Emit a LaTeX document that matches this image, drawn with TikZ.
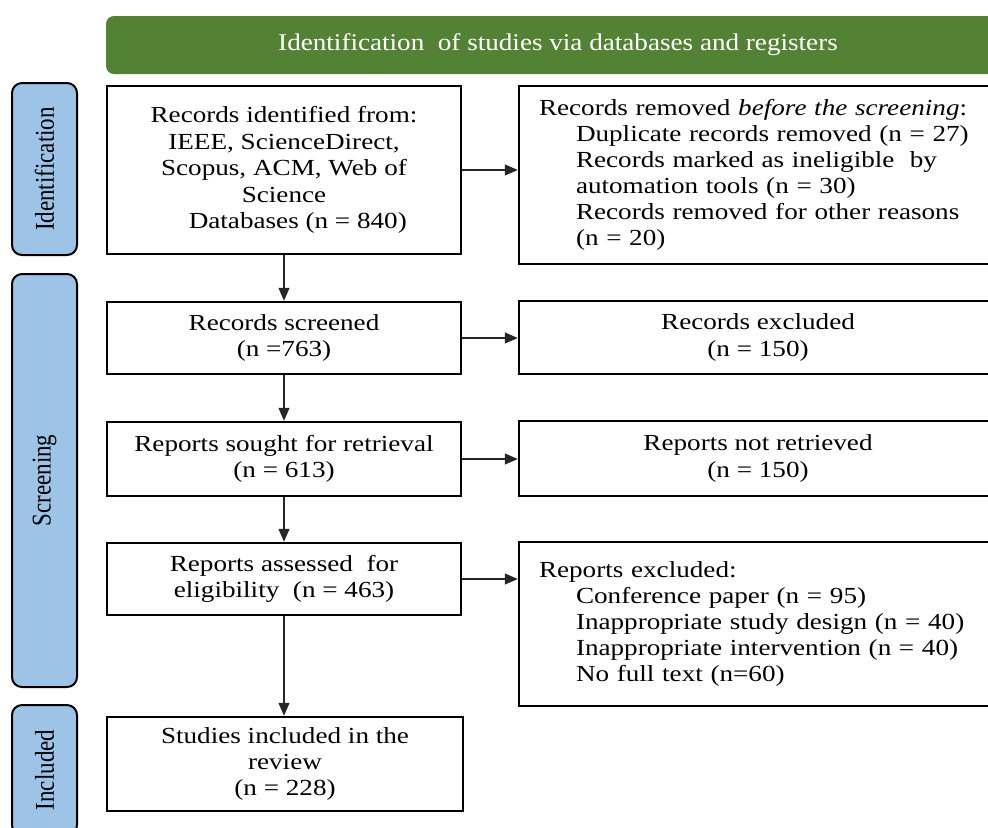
\documentclass[tikz,border=0pt]{standalone}
\usepackage{fontspec}
\usepackage{graphicx}
\setmainfont[FakeStretch=1.18]{Liberation Serif}
\newfontfamily\sidefont{Liberation Serif}
\newfontfamily\bannerfont[FakeStretch=1.13]{Liberation Serif}
\usetikzlibrary{arrows.meta}
\definecolor{bannergreen}{HTML}{548235}
\definecolor{phaseblue}{HTML}{9DC3E6}
\def\subline{\hspace*{18.5pt}}
\def\phaselabel#1{\scalebox{1}[1.18]{\fontsize{11.5}{13}\sidefont #1}}

\begin{document}
\begin{tikzpicture}[x=0.5pt, y=-0.5pt,
		box/.style={draw=black, line width=1.25pt, fill=white, inner sep=0pt, align=center, font=\fontsize{11.5}{13.2}\selectfont},
		listbox/.style={box, align=left, text width=219pt, inner xsep=10pt, font=\fontsize{11.5}{13}\selectfont},
		phase/.style={draw=black, line width=1pt, fill=phaseblue, rounded corners=5pt, inner sep=0pt, rotate=90},
		flow/.style={-{Triangle[length=6.5pt,width=5.5pt]}, line width=0.6pt, black!85}]
			%%%%% START %%%%%
			\useasboundingbox (0, 0) rectangle (988, 827);
			\clip (0, 0) rectangle (988, 827);
			
			\node[fill=bannergreen, rounded corners=4pt, minimum width=452pt, minimum height=29pt, text=white,
				font=\fontsize{12}{14}\bannerfont] (banner) at (558, 45) {Identification\ \ of studies via databases and registers};
			
			% phase bars
			\node[phase, minimum width=86pt, minimum height=32.5pt] (phaseid) at (44.5, 169) {\phaselabel{Identification}};
			\node[phase, minimum width=206.5pt, minimum height=32.5pt] (phasescr) at (44.5, 480.5) {\phaselabel{Screening}};
			\node[phase, minimum width=65pt, minimum height=32.5pt] (phaseinc) at (44.5, 770) {\phaselabel{Included}};
			
			% main column
			\node[box, minimum width=177pt, minimum height=84pt] (ident) at (284, 170)
				{Records identified from:\\IEEE, ScienceDirect,\\Scopus, ACM, Web of\\Science\\\hspace*{1.2em}Databases (n = 840)};
			\node[box, minimum width=177pt, minimum height=36pt] (screened) at (284, 338) {Records screened\\(n =763)};
			\node[box, minimum width=177pt, minimum height=37pt] (sought) at (284, 459) {Reports sought for retrieval\\(n = 613)};
			\node[box, minimum width=177pt, minimum height=36pt] (assessed) at (284, 579) {Reports assessed\ \ for\\eligibility\ \ (n = 463)};
			\node[box, minimum width=178pt, minimum height=47pt] (included) at (285, 764) {Studies included in the\\review\\(n = 228)};
			
			% side column
			\node[listbox, minimum height=89pt] (removed) at (758, 175)
				{Records removed \textit{before the screening}:\\
				\subline Duplicate records removed (n = 27)\\
				\subline Records marked as ineligible\ \ by\\
				\subline automation tools (n = 30)\\
				\subline Records removed for other reasons\\
				\subline (n = 20)};
			\node[box, minimum width=239pt, minimum height=36.5pt] (excluded) at (758, 337.5) {Records excluded\\(n = 150)};
			\node[box, minimum width=239pt, minimum height=37.5pt] (notretr) at (758, 458.5) {Reports not retrieved\\(n = 150)};
			\node[listbox, minimum height=82pt] (repexcl) at (758, 624)
				{Reports excluded:\\
				\subline Conference paper (n = 95)\\
				\subline Inappropriate study design (n = 40)\\
				\subline Inappropriate intervention (n = 40)\\
				\subline No full text (n=60)};
			
			% arrows
			\draw[flow] (ident) -- (screened);
			\draw[flow] (screened) -- (sought);
			\draw[flow] (sought) -- (assessed);
			\draw[flow] (assessed.south) -- (assessed.south |- included.north);
			\draw[flow] (ident.east) -- (ident.east -| removed.west);
			\draw[flow] (screened.east) -- (screened.east -| excluded.west);
			\draw[flow] (sought.east) -- (sought.east -| notretr.west);
			\draw[flow] (assessed.east) -- (assessed.east -| repexcl.west);
			%%%%% END %%%%%
		\end{tikzpicture}
\end{document}
